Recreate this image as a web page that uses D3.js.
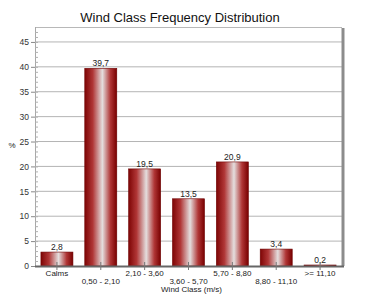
<!DOCTYPE html>
<html>
<head>
<meta charset="utf-8">
<script src="https://cdn.jsdelivr.net/npm/d3@7"></script>
<style>
  body { margin: 0; background: #fff; }
  text { font-family: "Liberation Sans", Arial, sans-serif; fill: #222; }
</style>
</head>
<body>
<div class="content"></div>
<script>
const SVGWIDTH = 366
const SVGHEIGHT = 295

const categories = ["Calms", "0,50 - 2,10", "2,10 - 3,60", "3,60 - 5,70", "5,70 - 8,80", "8,80 - 11,10", ">= 11,10"];
const frequency = [2.8, 39.7, 19.5, 13.5, 20.9, 3.4, 0.2];
const yTicks = [0, 5, 10, 15, 20, 25, 30, 35, 40, 45];

const margin = {left: 35, top: 27, right: 24, bottom: 29};
const plotW = SVGWIDTH - margin.left - margin.right;
const plotH = SVGHEIGHT - margin.top - margin.bottom;

let svg = d3.select(".content").append("svg").attr("width", SVGWIDTH).attr("height", SVGHEIGHT);

// bar gradient
let grad = svg.append("defs").append("linearGradient").attr("id", "barGrad")
    .attr("x1", "0%").attr("x2", "100%").attr("y1", "0%").attr("y2", "0%");
[[0, "#7e0505"], [0.25, "#b03636"], [0.55, "#e4dede"], [0.8, "#b03636"], [1, "#780000"]]
    .forEach(s => grad.append("stop").attr("offset", s[0]).attr("stop-color", s[1]));

let g = svg.append("g").attr("transform", `translate(${margin.left},${margin.top})`);

let xscale = d3.scaleBand().domain(categories).range([0, plotW]).paddingInner(0.27).paddingOuter(0.135);
let yscale = d3.scaleLinear().domain([0, 48]).range([plotH, 0]);

// grid lines
g.append("g").selectAll("line").data(yTicks.filter(d => d > 0)).join("line")
    .attr("x1", 0).attr("x2", plotW)
    .attr("y1", d => yscale(d)).attr("y2", d => yscale(d))
    .style("stroke", "#b4b4b4").style("stroke-width", 1);

// frame top
g.append("line").attr("x1", 0).attr("x2", plotW).attr("y1", 0.5).attr("y2", 0.5)
    .style("stroke", "#b8b8b8");
// right shadow
g.append("line").attr("x1", plotW + 1).attr("x2", plotW + 1).attr("y1", 1).attr("y2", plotH)
    .style("stroke", "#8c8c8c").style("stroke-width", 3);
// left axis line
g.append("line").attr("x1", 0.5).attr("x2", 0.5).attr("y1", 0).attr("y2", plotH)
    .style("stroke", "#a8a8a8");

// minor ticks
g.append("g").selectAll("line").data(d3.range(0, 48)).join("line")
    .attr("x1", 0).attr("x2", 3)
    .attr("y1", d => yscale(d) + 0.5).attr("y2", d => yscale(d) + 0.5)
    .style("stroke", "#b0b0b0");

// y axis
let yaxis = d3.axisLeft(yscale).tickValues(yTicks).tickSize(4).tickPadding(2).tickFormat(d3.format("d"));
let yg = g.append("g").call(yaxis);
yg.select(".domain").remove();
yg.selectAll(".tick line").style("stroke", "#888");
yg.selectAll(".tick text").style("font-size", "8.5px").style("fill", "#333").style("font-family", "Liberation Sans, Arial, sans-serif");

// bars
g.append("g").selectAll("rect").data(frequency).join("rect")
    .attr("x", (d, i) => xscale(categories[i]))
    .attr("y", d => yscale(d))
    .attr("width", xscale.bandwidth())
    .attr("height", d => plotH - yscale(d))
    .attr("fill", "url(#barGrad)")
    .style("stroke", "#6e0000").style("stroke-width", 0.6);

// value labels
g.append("g").selectAll("text").data(frequency).join("text")
    .attr("x", (d, i) => xscale(categories[i]) + xscale.bandwidth() / 2)
    .attr("y", d => yscale(d) - 2)
    .attr("text-anchor", "middle")
    .text(d => d3.format(".1f")(d).replace(".", ","))
    .style("font-size", "8.5px");

// x axis
g.append("line").attr("x1", 0).attr("x2", plotW + 2).attr("y1", plotH + 0.5).attr("y2", plotH + 0.5)
    .style("stroke", "#666").style("stroke-width", 2);
let xg = g.append("g").selectAll("g").data(categories).join("g")
    .attr("transform", d => `translate(${xscale(d) + xscale.bandwidth() / 2},${plotH})`);
xg.append("line").attr("y1", -4).attr("y2", 4).style("stroke", "#777");
xg.append("text")
    .attr("y", (d, i) => i % 2 === 0 ? 10 : 18)
    .attr("text-anchor", "middle")
    .text(d => d)
    .style("font-size", "8px");

// title
svg.append("text").attr("x", 180).attr("y", 22).attr("text-anchor", "middle")
    .text("Wind Class Frequency Distribution").style("font-size", "13px").style("fill", "#111");

// axis labels
svg.append("text").attr("x", margin.left + plotW / 2 + 3).attr("y", SVGHEIGHT - 3).attr("text-anchor", "middle")
    .text("Wind Class (m/s)").style("font-size", "8px");
svg.append("text").attr("x", 12).attr("y", 148).attr("text-anchor", "middle")
    .text("%").style("font-size", "8px");
</script>
</body>
</html>
